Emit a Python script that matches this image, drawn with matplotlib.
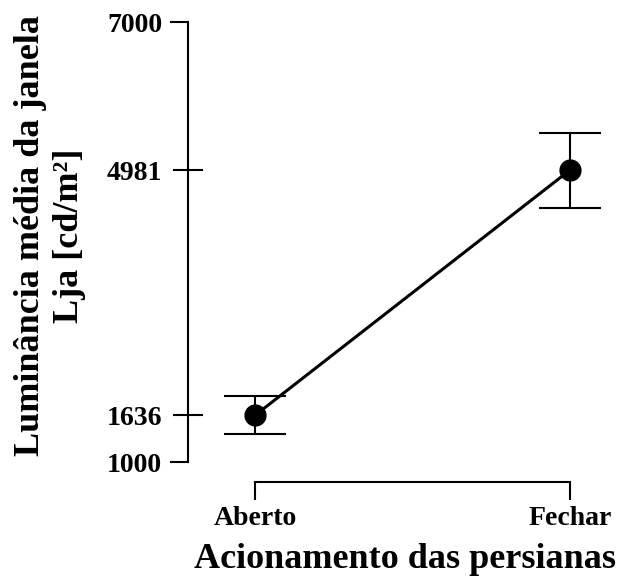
# mean window luminance vs blind action, with error bars

import matplotlib
matplotlib.use('Agg')
import matplotlib.pyplot as plt

categories = ['Aberto', 'Fechar']
means = [1636, 4981]
errors = [260, 512]
ytick_ends = [1000, 7000]
ytick_means = [1636, 4981]

plt.rcParams['font.family'] = ['Liberation Serif', 'DejaVu Serif']
plt.rcParams['font.weight'] = 'bold'

W, H = 621, 576
fig = plt.figure(figsize=(W / 100, H / 100), dpi=100)
ax = fig.add_axes([188 / W, 1 - 462 / H, (610 - 188) / W, (462 - 22) / H])

x = list(range(len(categories)))
ax.plot(x, means, color='black', linewidth=2.2, zorder=2)
ax.errorbar(x, means, yerr=errors, fmt='o', color='black', markersize=15,
            elinewidth=1.5, capsize=22, capthick=1.5, zorder=3)

ax.set_xlim(-0.2127, 1.127)
ax.set_ylim(1000, 7000)

ax.spines['top'].set_visible(False)
ax.spines['right'].set_visible(False)
ax.spines['left'].set_linewidth(1.5)
ax.spines['bottom'].set_linewidth(1.5)
ax.spines['left'].set_bounds(1000, 7000)
ax.spines['bottom'].set_bounds(0, 1)
ax.spines['bottom'].set_position(('outward', 14.4))

ax.set_xticks(x)
ax.set_xticklabels(categories, fontsize=20, fontweight='bold')
ax.tick_params(axis='x', direction='out', length=13, width=1.5, pad=4)

ax.set_yticks(ytick_ends)
ax.set_yticklabels([str(v) for v in ytick_ends], fontsize=20, fontweight='bold')
ax.set_yticks(ytick_means, minor=True)
ax.set_yticklabels([str(v) for v in ytick_means], minor=True, fontsize=20,
                   fontweight='bold')
ax.tick_params(axis='y', which='major', direction='out', length=13,
               width=1.5, pad=5.7)
ax.tick_params(axis='y', which='minor', direction='inout', length=21,
               width=1.5, pad=8.2)

fig.text(50 / W, 1 - 236 / H, 'Luminância média da janela\nLja [cd/m²]',
         rotation=90, ha='center', va='center', fontsize=26,
         fontweight='bold', multialignment='center')
fig.text(405 / W, 1 - 568 / H, 'Acionamento das persianas', ha='center',
         va='baseline', fontsize=26, fontweight='bold')

plt.savefig('out.png', dpi=100)
